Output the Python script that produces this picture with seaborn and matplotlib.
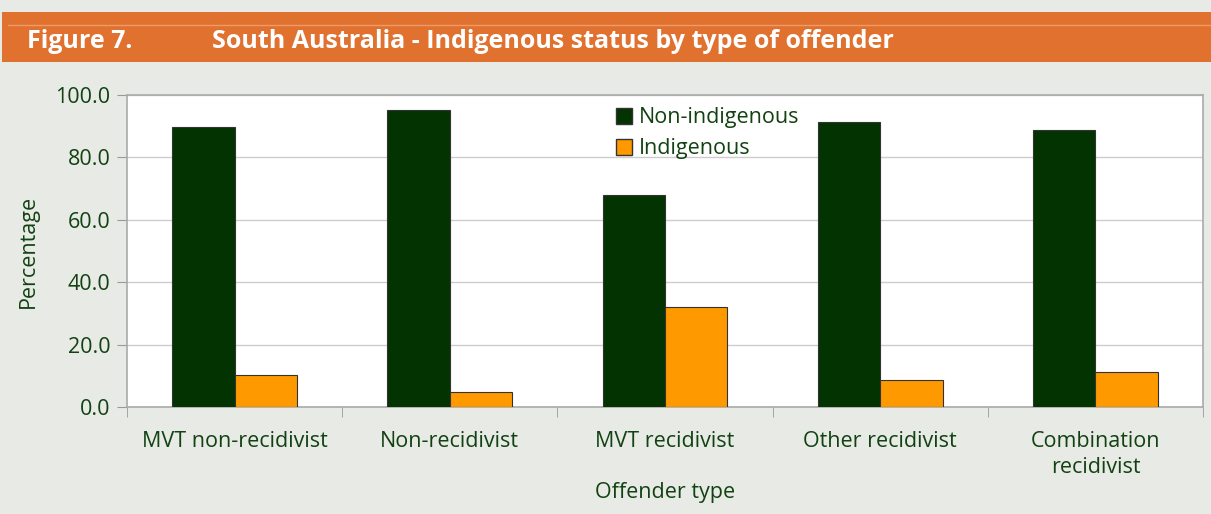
import pandas as pd
import seaborn as sns
import matplotlib.pyplot as plt
from matplotlib.patches import Rectangle
from matplotlib.lines import Line2D

# valores (%)
categorias = ['MVT non-recidivist', 'Non-recidivist', 'MVT recidivist',
              'Other recidivist', 'Combination\nrecidivist']
nao_indigenas = [89.7, 95.2, 67.9, 91.3, 88.8]
indigenas = [10.3, 4.8, 32.1, 8.7, 11.2]
series = ['Non-indigenous', 'Indigenous']

dados = pd.DataFrame({
    'Tipo': categorias * 2,
    'Status': [series[0]] * len(categorias) + [series[1]] * len(categorias),
    'Percentagem': nao_indigenas + indigenas,
})

verde = '#033300'
laranja = '#FF9900'
texto = '#124212'
fundo = '#E8EAE6'
fs = 15.5

sns.set_style('white')
plt.rcParams['font.family'] = ['Open Sans', 'DejaVu Sans']

fig = plt.figure(figsize=(12.11, 5.14), dpi=100, facecolor=fundo)
ax = fig.add_axes([0.1049, 0.2082, 0.8885, 0.607])

sns.barplot(data=dados, x='Tipo', y='Percentagem', hue='Status',
            palette=[verde, laranja], saturation=1, width=0.58, edgecolor='#333333',
            linewidth=0.8, ax=ax, zorder=3)

ax.set_ylim(0, 100)
ax.set_xlim(-0.5, 4.5)
ax.set_yticks([0, 20, 40, 60, 80, 100])
ax.set_yticklabels([f'{v:.1f}' for v in [0, 20, 40, 60, 80, 100]])
ax.yaxis.grid(True, color='#CCCCCC', linewidth=1, zorder=0)
ax.set_axisbelow(True)

ax.set_xticks(range(len(categorias)))
ax.set_xticklabels(categorias, linespacing=1.35)
ax.set_xticks([i - 0.5 for i in range(len(categorias) + 1)], minor=True)
ax.tick_params(axis='x', which='major', length=0, pad=17, labelsize=fs, labelcolor=texto)
ax.tick_params(axis='x', which='minor', length=7, color='#999999', direction='out', bottom=True)
ax.tick_params(axis='y', length=7, color='#999999', direction='out', left=True,
               labelsize=fs, labelcolor=texto, pad=5)

for lado in ['left', 'bottom', 'top', 'right']:
    ax.spines[lado].set_color('#AAAAAA')
    ax.spines[lado].set_linewidth(1.2)

ax.set_xlabel('Offender type', fontsize=fs, color=texto, labelpad=3)
ax.set_ylabel('Percentage', fontsize=fs, color=texto, labelpad=12)

ax.legend(handles=[Rectangle((0, 0), 1, 1, facecolor=verde, edgecolor='#333333'),
                   Rectangle((0, 0), 1, 1, facecolor=laranja, edgecolor='#333333')],
          labels=series, loc='upper left', bbox_to_anchor=(0.436, 1.022), frameon=False,
          fontsize=fs, labelcolor=texto, handlelength=0.75, handleheight=0.75,
          handletextpad=0.35, labelspacing=0.45)

# faixa laranja do titulo
fig.patches.append(Rectangle((2 / 1211, 1 - 62 / 514), 1, 50 / 514,
                             transform=fig.transFigure, facecolor='#E0712F',
                             edgecolor='none', zorder=0))
fig.lines.append(Line2D([8 / 1211, 1], [1 - 25 / 514] * 2, transform=fig.transFigure,
                        color='#EE9B6A', linewidth=1))
fig.text(27 / 1211, 1 - 42 / 514, 'Figure 7.', color='white', fontsize=18,
         fontweight='bold', va='center')
fig.text(212 / 1211, 1 - 42 / 514, 'South Australia - Indigenous status by type of offender',
         color='white', fontsize=18, fontweight='bold', va='center')

plt.savefig('out.png', dpi=100, facecolor=fundo)
